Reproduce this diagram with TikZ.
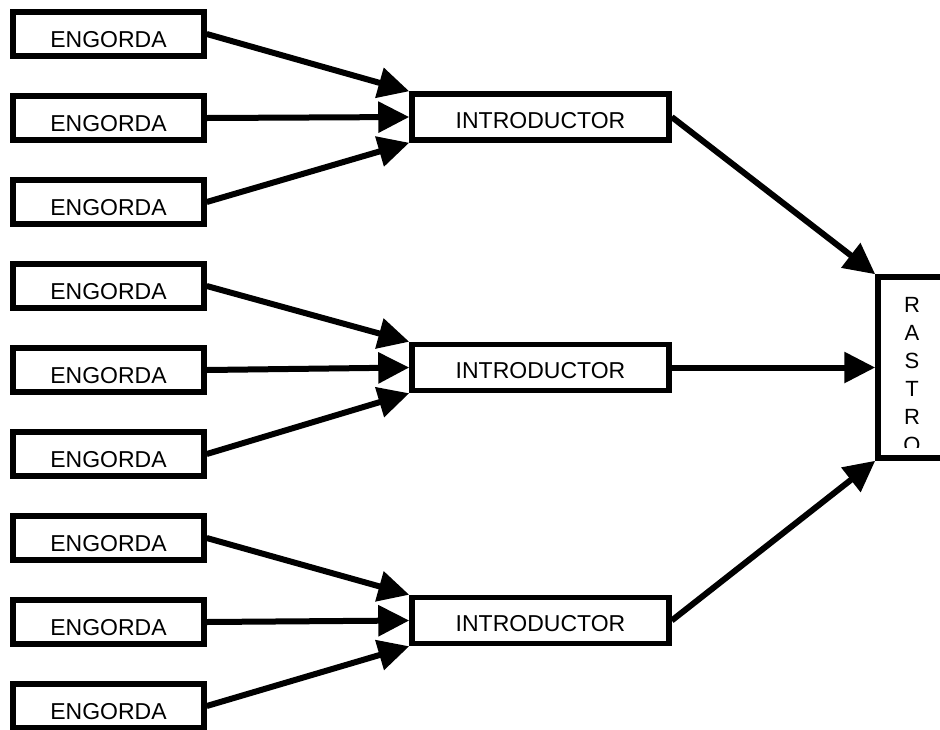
\documentclass[tikz,border=0pt]{standalone}
\usepackage{fontspec}
\setmainfont{Liberation Sans}
\usetikzlibrary{arrows.meta}
\begin{document}
\begin{tikzpicture}[x=1pt,y=-1pt,
  box/.style={draw, line width=5.5pt, fill=white, inner sep=0pt,
              font=\fontsize{23}{27}\selectfont, text depth=0pt},
  engorda/.style={box, minimum width=191pt, minimum height=44pt,
                  text height=26.5pt},
  intro/.style={box, minimum width=257pt, minimum height=46pt,
                text height=22.5pt},
  rastrobox/.style={draw, line width=5.5pt, fill=white, inner sep=0pt,
                    minimum width=100pt, minimum height=181pt},
  flow/.style={line width=6pt, -{Triangle[length=31pt,width=30pt]}}
]
\useasboundingbox (0,0) rectangle (940,729);

% feeder units, three per introducer
\foreach \i/\y in {1/34,2/118,3/202,4/286,5/370,6/454,7/538,8/622,9/706}
  \node[engorda] (e\i) at (108.5,\y) {ENGORDA};

% introducers
\node[intro] (i1) at (540.5,117)   {INTRODUCTOR};
\node[intro] (i2) at (540.5,367.5) {INTRODUCTOR};
\node[intro] (i3) at (540.5,620.5) {INTRODUCTOR};

% slaughterhouse, running off the right edge
\node[rastrobox] (rastro) at (928,367.5) {};
\begin{scope}
  \clip (882,281) rectangle (940,447);
  \node[anchor=north, inner sep=0pt, align=center,
        font=\fontsize{22}{28}\selectfont] (rtext) at (912,297)
        {R\\A\\S\\T\\R\\O};
\end{scope}

% feeders into introducers
\foreach \g/\a/\b/\c in {i1/e1/e2/e3, i2/e4/e5/e6, i3/e7/e8/e9} {
  \draw[flow] (\a.east) -- (\g.north west);
  \draw[flow] (\b.east) -- (\g.west);
  \draw[flow] (\c.east) -- (\g.south west);
}

% introducers into the slaughterhouse
\draw[flow] (i1.east) -- (rastro.north west);
\draw[flow] (i2.east) -- (rastro.west);
\draw[flow] (i3.east) -- (rastro.south west);
\end{tikzpicture}
\end{document}
